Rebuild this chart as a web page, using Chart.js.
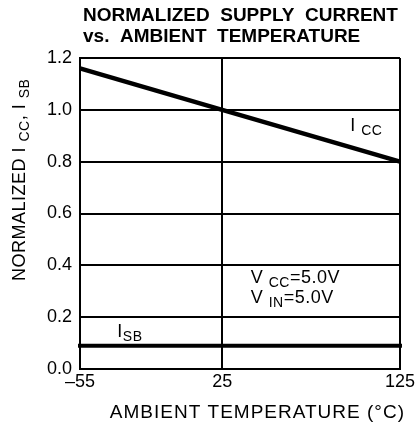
<!DOCTYPE html>
<html>
<head>
<meta charset="utf-8">
<script src="https://cdn.jsdelivr.net/npm/chart.js@4.4.1/dist/chart.umd.min.js"></script>
<style>
  html, body { margin: 0; padding: 0; background: #fff; }
  #wrap { width: 417px; height: 430px; }
</style>
</head>
<body>
<div id="wrap"><canvas id="myChart"></canvas></div>
<script>
// données
const temps = [-55, 25, 125];          // température ambiante (°C)
const icc = [1.16, 1.0, 0.8];          // I_CC normalisé
const isb = [0.09, 0.09, 0.09];        // I_SB normalisé
const xTicks = [-55, 25, 125];
const yTicks = [0, 0.2, 0.4, 0.6, 0.8, 1.0, 1.2];

const FONT = "'Liberation Sans', Arial, sans-serif";

// texte avec indices (ex: I_CC)
function drawRich(ctx, x, y, parts, size) {
    let cx = x;
    parts.forEach(p => {
        const s = p.sub ? Math.round(size * 0.8) : size;
        ctx.font = s + 'px ' + FONT;
        ctx.fillText(p.t, cx, y + (p.sub ? 4 : 0));
        cx += ctx.measureText(p.t).width;
    });
}

const textPlugin = {
    id: 'texts',
    afterDraw(chart) {
        const ctx = chart.ctx;
        const xs = chart.scales.x, ys = chart.scales.y;
        const area = chart.chartArea;
        ctx.save();
        ctx.fillStyle = '#000';
        ctx.textBaseline = 'alphabetic';
        ctx.textAlign = 'left';

        // titre
        ctx.font = 'bold 19px ' + FONT;
        ctx.fillText('NORMALIZED  SUPPLY  CURRENT', area.left + 3, 21);
        ctx.fillText('vs.  AMBIENT  TEMPERATURE', area.left + 3, 42);

        // étiquettes des courbes
        ctx.letterSpacing = '0.5px';
        drawRich(ctx, xs.getPixelForValue(97), ys.getPixelForValue(0.92),
            [{t: 'I '}, {t: 'CC', sub: true}], 18);
        drawRich(ctx, xs.getPixelForValue(-34), ys.getPixelForValue(0.125),
            [{t: 'I'}, {t: 'SB', sub: true}], 18);
        drawRich(ctx, xs.getPixelForValue(41), ys.getPixelForValue(0.332),
            [{t: 'V '}, {t: 'CC', sub: true}, {t: '=5.0V'}], 18);
        drawRich(ctx, xs.getPixelForValue(41), ys.getPixelForValue(0.255),
            [{t: 'V '}, {t: 'IN', sub: true}, {t: '=5.0V'}], 18);

        // titre axe x
        ctx.font = '19px ' + FONT;
        ctx.letterSpacing = '1px';
        ctx.textAlign = 'right';
        ctx.fillText('AMBIENT TEMPERATURE (°C)', area.right + 5, area.bottom + 49);
        ctx.textAlign = 'left';

        // titre axe y (vertical)
        ctx.letterSpacing = '0.5px';
        ctx.translate(25, 281);
        ctx.rotate(-Math.PI / 2);
        drawRich(ctx, 0, 0,
            [{t: 'NORMALIZED I '}, {t: 'CC', sub: true}, {t: ', I '}, {t: 'SB', sub: true}], 18);
        ctx.restore();
    }
};

const chart = new Chart(
    document.getElementById('myChart'),
    {
        type: 'line',
        data: {
            datasets: [
                {
                    label: 'ICC',
                    data: temps.map((t, i) => ({x: t, y: icc[i]})),
                    borderColor: '#000',
                    borderWidth: 4.5,
                    pointRadius: 0,
                    tension: 0,
                    clip: false
                },
                {
                    label: 'ISB',
                    data: temps.map((t, i) => ({x: t, y: isb[i]})),
                    borderColor: '#000',
                    borderWidth: 4,
                    borderCapStyle: 'square',
                    pointRadius: 0,
                    tension: 0,
                    clip: false
                }
            ]
        },
        options: {
            responsive: true,
            maintainAspectRatio: false,
            animation: false,
            layout: {
                padding: {top: 58, right: 17, left: 0, bottom: 0}
            },
            plugins: {
                legend: {display: false},
                tooltip: {enabled: false}
            },
            scales: {
                x: {
                    type: 'linear',
                    min: -55,
                    max: 125,
                    afterBuildTicks: (scale) => {
                        scale.ticks = xTicks.map(v => ({value: v}));
                    },
                    afterFit: (scale) => { scale.height = 61; },
                    grid: {
                        color: '#000',
                        lineWidth: 2,
                        drawTicks: false
                    },
                    border: {color: '#000', width: 2},
                    ticks: {
                        color: '#000',
                        padding: 2,
                        maxRotation: 0,
                        font: {size: 18, family: FONT},
                        callback: (v) => v < 0 ? '\u2013' + Math.abs(v) : String(v)
                    }
                },
                y: {
                    min: 0,
                    max: 1.2,
                    afterBuildTicks: (scale) => {
                        scale.ticks = yTicks.map(v => ({value: v}));
                    },
                    afterFit: (scale) => { scale.width = 80; },
                    grid: {
                        color: '#000',
                        lineWidth: 2,
                        drawTicks: false
                    },
                    border: {color: '#000', width: 2},
                    ticks: {
                        color: '#000',
                        padding: 8,
                        font: {size: 18, family: FONT},
                        callback: (v) => Number(v).toFixed(1)
                    }
                }
            }
        },
        plugins: [textPlugin]
    }
);
</script>
</body>
</html>
